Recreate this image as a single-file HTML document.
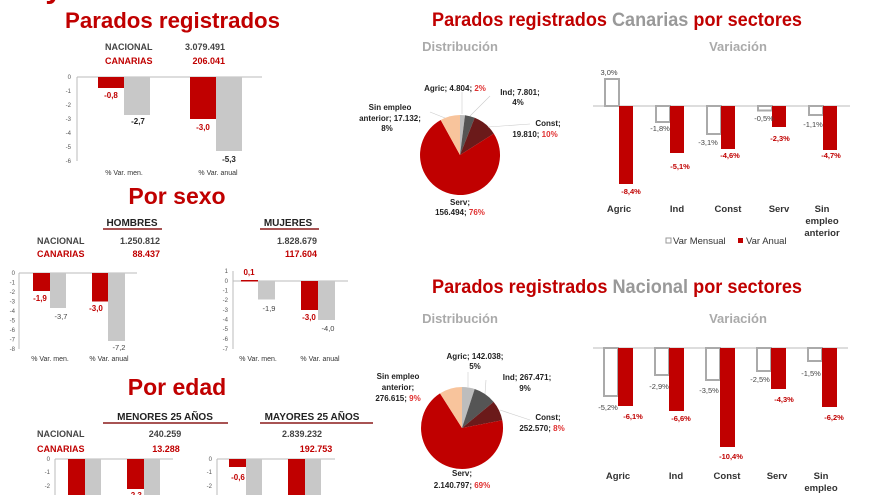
<!DOCTYPE html>
<html><head><meta charset="utf-8"><style>
html,body{margin:0;padding:0;background:#fff;}
svg{display:block;font-family:"Liberation Sans",Arial,sans-serif;}
.t{font-weight:bold;fill:#c00000;}
.k{font-size:9px;font-weight:bold;fill:#444;}
.r{font-size:9px;font-weight:bold;fill:#c00000;}
.ax{font-size:6px;fill:#555;}
.lb{font-size:8px;fill:#222;font-weight:bold;}
.lr{font-size:8px;fill:#c00000;font-weight:bold;}
.cat{font-size:7px;fill:#333;}
.pl{font-size:8px;font-weight:bold;fill:#222;}
.vl{font-size:7.5px;fill:#444;}
.vr{font-size:7.5px;fill:#c00000;font-weight:bold;}
.vc{font-size:9.5px;fill:#333;font-weight:bold;}
.h{font-size:13px;font-weight:bold;fill:#aaa;}
</style></head><body>
<svg width="880" height="495" viewBox="0 0 880 495" xmlns="http://www.w3.org/2000/svg">
<text x="0" y="-2" class="t" font-size="30" textLength="160" lengthAdjust="spacingAndGlyphs">mayo 2016</text>
<text x="65" y="28" class="t" font-size="22" textLength="215" lengthAdjust="spacingAndGlyphs">Parados registrados</text>
<text x="105" y="50" class="k">NACIONAL</text><text x="225" y="50" class="k" text-anchor="end">3.079.491</text>
<text x="105" y="64" class="r">CANARIAS</text><text x="225" y="64" class="r" text-anchor="end">206.041</text>
<g class="ax" text-anchor="end">
<text x="71" y="79">0</text><text x="71" y="93">-1</text><text x="71" y="107">-2</text><text x="71" y="121">-3</text><text x="71" y="135">-4</text><text x="71" y="149">-5</text><text x="71" y="163">-6</text></g>
<line x1="77" y1="77" x2="77" y2="161" stroke="#bbb" stroke-width="1"/>
<line x1="77" y1="77" x2="262" y2="77" stroke="#bbb" stroke-width="1"/>
<rect x="98" y="77" width="26" height="11" fill="#c00000"/>
<rect x="124" y="77" width="26" height="38" fill="#c8c8c8"/>
<rect x="190" y="77" width="26" height="42" fill="#c00000"/>
<rect x="216" y="77" width="26" height="74" fill="#c8c8c8"/>
<text x="111" y="98" class="lr" text-anchor="middle">-0,8</text>
<text x="138" y="124" class="lb" text-anchor="middle">-2,7</text>
<text x="203" y="130" class="lr" text-anchor="middle">-3,0</text>
<text x="229" y="162" class="lb" text-anchor="middle">-5,3</text>
<text x="124" y="175" class="cat" text-anchor="middle">% Var. men.</text>
<text x="218" y="175" class="cat" text-anchor="middle">% Var. anual</text>
<text x="177" y="204" class="t" font-size="23" text-anchor="middle">Por sexo</text>
<text x="132" y="226" font-size="10" font-weight="bold" fill="#222" text-anchor="middle">HOMBRES</text>
<line x1="103" y1="229" x2="162" y2="229" stroke="#8b1a1a" stroke-width="1.5"/>
<text x="288" y="226" font-size="10" font-weight="bold" fill="#222" text-anchor="middle">MUJERES</text>
<line x1="260" y1="229" x2="319" y2="229" stroke="#8b1a1a" stroke-width="1.5"/>
<text x="37" y="244" class="k">NACIONAL</text><text x="160" y="244" class="k" text-anchor="end">1.250.812</text><text x="317" y="244" class="k" text-anchor="end">1.828.679</text>
<text x="37" y="257" class="r">CANARIAS</text><text x="160" y="257" class="r" text-anchor="end">88.437</text><text x="317" y="257" class="r" text-anchor="end">117.604</text>
<g class="ax" text-anchor="end">
<text x="15" y="275">0</text><text x="15" y="284.5">-1</text><text x="15" y="294">-2</text><text x="15" y="303.5">-3</text><text x="15" y="313">-4</text><text x="15" y="322.5">-5</text><text x="15" y="332">-6</text><text x="15" y="341.5">-7</text><text x="15" y="351">-8</text></g>
<line x1="19" y1="273" x2="19" y2="349" stroke="#bbb"/>
<line x1="19" y1="273" x2="137" y2="273" stroke="#bbb"/>
<rect x="33" y="273" width="17" height="18" fill="#c00000"/>
<rect x="50" y="273" width="16" height="35" fill="#c8c8c8"/>
<rect x="92" y="273" width="16" height="28.5" fill="#c00000"/>
<rect x="108" y="273" width="17" height="68" fill="#c8c8c8"/>
<text x="40" y="301" class="lr" text-anchor="middle">-1,9</text>
<text x="61" y="319" class="vl" text-anchor="middle">-3,7</text>
<text x="96" y="311" class="lr" text-anchor="middle">-3,0</text>
<text x="119" y="350" class="vl" text-anchor="middle">-7,2</text>
<text x="50" y="361" class="cat" text-anchor="middle">% Var. men.</text>
<text x="109" y="361" class="cat" text-anchor="middle">% Var. anual</text>
<g class="ax" text-anchor="end">
<text x="228" y="273">1</text><text x="228" y="283">0</text><text x="228" y="292.5">-1</text><text x="228" y="302">-2</text><text x="228" y="312">-3</text><text x="228" y="321.5">-4</text><text x="228" y="331">-5</text><text x="228" y="341">-6</text><text x="228" y="351">-7</text></g>
<line x1="233" y1="271" x2="233" y2="349" stroke="#bbb"/>
<line x1="233" y1="281" x2="348" y2="281" stroke="#bbb"/>
<rect x="241" y="280" width="17" height="1.5" fill="#c00000"/>
<rect x="258" y="281" width="17" height="18.5" fill="#c8c8c8"/>
<rect x="301" y="281" width="17" height="29" fill="#c00000"/>
<rect x="318" y="281" width="17" height="39" fill="#c8c8c8"/>
<text x="249" y="275" class="lr" text-anchor="middle">0,1</text>
<text x="269" y="311" class="vl" text-anchor="middle">-1,9</text>
<text x="309" y="320" class="lr" text-anchor="middle">-3,0</text>
<text x="328" y="331" class="vl" text-anchor="middle">-4,0</text>
<text x="258" y="361" class="cat" text-anchor="middle">% Var. men.</text>
<text x="320" y="361" class="cat" text-anchor="middle">% Var. anual</text>
<text x="177" y="395" class="t" font-size="23" text-anchor="middle">Por edad</text>
<text x="165" y="420" font-size="10" font-weight="bold" fill="#222" text-anchor="middle">MENORES 25 AÑOS</text>
<line x1="103" y1="423" x2="228" y2="423" stroke="#8b1a1a" stroke-width="1.5"/>
<text x="312" y="420" font-size="10" font-weight="bold" fill="#222" text-anchor="middle">MAYORES 25 AÑOS</text>
<line x1="260" y1="423" x2="373" y2="423" stroke="#8b1a1a" stroke-width="1.5"/>
<text x="37" y="437" class="k">NACIONAL</text><text x="165" y="437" class="k" text-anchor="middle">240.259</text><text x="302" y="437" class="k" text-anchor="middle">2.839.232</text>
<text x="37" y="452" class="r">CANARIAS</text><text x="166" y="452" class="r" text-anchor="middle">13.288</text><text x="316" y="452" class="r" text-anchor="middle">192.753</text>
<g class="ax" text-anchor="end">
<text x="50" y="461">0</text><text x="50" y="474">-1</text><text x="50" y="488">-2</text>
<text x="212" y="461">0</text><text x="212" y="474">-1</text><text x="212" y="488">-2</text></g>
<line x1="55" y1="459" x2="55" y2="495" stroke="#bbb"/><line x1="55" y1="459" x2="173" y2="459" stroke="#bbb"/>
<line x1="217" y1="459" x2="217" y2="495" stroke="#bbb"/><line x1="217" y1="459" x2="335" y2="459" stroke="#bbb"/>
<rect x="68" y="459" width="17" height="36" fill="#c00000"/>
<rect x="85" y="459" width="16" height="36" fill="#c8c8c8"/>
<rect x="127" y="459" width="17" height="30" fill="#c00000"/>
<rect x="144" y="459" width="16" height="36" fill="#c8c8c8"/>
<text x="135" y="498" class="lr" text-anchor="middle">-2,3</text>
<rect x="229" y="459" width="17" height="8" fill="#c00000"/>
<rect x="246" y="459" width="16" height="36" fill="#c8c8c8"/>
<rect x="288" y="459" width="17" height="36" fill="#c00000"/>
<rect x="305" y="459" width="16" height="36" fill="#c8c8c8"/>
<text x="238" y="480" class="lr" text-anchor="middle">-0,6</text>

<text x="432" y="26" class="t" font-size="19" textLength="370" lengthAdjust="spacingAndGlyphs">Parados registrados <tspan fill="#999">Canarias</tspan> por sectores</text>
<text x="460" y="51" class="h" text-anchor="middle">Distribución</text>
<text x="738" y="51" class="h" text-anchor="middle">Variación</text>
<path d="M460,155 L460,115 A40,40 0 0 1 465,115.3 Z" fill="#bdbdbd"/>
<path d="M460,155 L465,115.3 A40,40 0 0 1 474.7,117.8 Z" fill="#555"/>
<path d="M460,155 L474.7,117.8 A40,40 0 0 1 493.8,133.6 Z" fill="#6b1a1a"/>
<path d="M460,155 L493.8,133.6 A40,40 0 1 1 440.7,120 Z" fill="#c00000"/>
<path d="M460,155 L440.7,120 A40,40 0 0 1 460,115 Z" fill="#f8c49c"/>
<g stroke="#ccc" stroke-width="0.6" fill="none">
<line x1="462" y1="114" x2="462" y2="92"/><line x1="470" y1="116" x2="490" y2="96"/><line x1="488" y1="127" x2="530" y2="124"/><line x1="445" y1="118" x2="430" y2="112"/></g>
<text x="455" y="91" class="pl" text-anchor="middle">Agric; 4.804; <tspan fill="#e03030">2%</tspan></text>
<text x="520" y="95" class="pl" text-anchor="middle">Ind; 7.801;</text>
<text x="518" y="105" class="pl" text-anchor="middle" fill="#e03030">4%</text>
<text x="548" y="126" class="pl" text-anchor="middle">Const;</text>
<text x="535" y="137" class="pl" text-anchor="middle">19.810; <tspan fill="#e03030">10%</tspan></text>
<text x="390" y="110" class="pl" text-anchor="middle">Sin empleo</text>
<text x="390" y="121" class="pl" text-anchor="middle">anterior; 17.132;</text>
<text x="387" y="131" class="pl" text-anchor="middle" fill="#e03030">8%</text>
<text x="460" y="205" class="pl" text-anchor="middle">Serv;</text>
<text x="460" y="215" class="pl" text-anchor="middle">156.494; <tspan fill="#e03030">76%</tspan></text>
<line x1="593" y1="106" x2="850" y2="106" stroke="#bbb"/>
<g fill="#fff" stroke="#aaa" stroke-width="2">
<rect x="605" y="79" width="14" height="27"/><rect x="656" y="106" width="14" height="16"/><rect x="707" y="106" width="14" height="28"/><rect x="758" y="106" width="14" height="4.5"/><rect x="809" y="106" width="14" height="9"/></g>
<g fill="#c00000">
<rect x="619" y="106" width="14" height="78"/><rect x="670" y="106" width="14" height="47"/><rect x="721" y="106" width="14" height="43"/><rect x="772" y="106" width="14" height="21"/><rect x="823" y="106" width="14" height="44"/></g>
<g class="vl" text-anchor="middle"><text x="609" y="75">3,0%</text><text x="660" y="131">-1,8%</text><text x="708" y="145">-3,1%</text><text x="764" y="121">-0,5%</text><text x="813" y="127">-1,1%</text></g>
<g class="vr" text-anchor="middle"><text x="631" y="194">-8,4%</text><text x="680" y="169">-5,1%</text><text x="730" y="158">-4,6%</text><text x="780" y="141">-2,3%</text><text x="831" y="158">-4,7%</text></g>
<g class="vc" text-anchor="middle"><text x="619" y="212">Agric</text><text x="677" y="212">Ind</text><text x="728" y="212">Const</text><text x="779" y="212">Serv</text><text x="822" y="212">Sin</text><text x="822" y="224">empleo</text><text x="822" y="236">anterior</text></g>
<rect x="666" y="238" width="5" height="5" fill="none" stroke="#999" stroke-width="1"/>
<text x="673" y="244" font-size="9.5" fill="#333">Var Mensual</text>
<rect x="738" y="238" width="5" height="5" fill="#c00000"/>
<text x="746" y="244" font-size="9.5" fill="#333">Var Anual</text>

<text x="432" y="293" class="t" font-size="19" textLength="370" lengthAdjust="spacingAndGlyphs">Parados registrados <tspan fill="#999">Nacional</tspan> por sectores</text>
<text x="460" y="323" class="h" text-anchor="middle">Distribución</text>
<text x="738" y="323" class="h" text-anchor="middle">Variación</text>
<path d="M462,428 L462,387 A41,41 0 0 1 474.7,389 Z" fill="#bdbdbd"/>
<path d="M462,428 L474.7,389 A41,41 0 0 1 493.6,401.9 Z" fill="#555"/>
<path d="M462,428 L493.6,401.9 A41,41 0 0 1 502.3,420.3 Z" fill="#6b1a1a"/>
<path d="M462,428 L502.3,420.3 A41,41 0 1 1 440,393.4 Z" fill="#c00000"/>
<path d="M462,428 L440,393.4 A41,41 0 0 1 462,387 Z" fill="#f8c49c"/>
<g stroke="#ccc" stroke-width="0.6" fill="none">
<line x1="468" y1="387" x2="468" y2="372"/><line x1="485" y1="394" x2="486" y2="380"/><line x1="500" y1="410" x2="530" y2="420"/></g>
<text x="475" y="359" class="pl" text-anchor="middle">Agric; 142.038;</text>
<text x="475" y="369" class="pl" text-anchor="middle" fill="#e03030">5%</text>
<text x="527" y="380" class="pl" text-anchor="middle">Ind; 267.471;</text>
<text x="525" y="391" class="pl" text-anchor="middle" fill="#e03030">9%</text>
<text x="398" y="379" class="pl" text-anchor="middle">Sin empleo</text>
<text x="398" y="390" class="pl" text-anchor="middle">anterior;</text>
<text x="398" y="401" class="pl" text-anchor="middle">276.615; <tspan fill="#e03030">9%</tspan></text>
<text x="548" y="420" class="pl" text-anchor="middle">Const;</text>
<text x="542" y="431" class="pl" text-anchor="middle">252.570; <tspan fill="#e03030">8%</tspan></text>
<text x="462" y="476" class="pl" text-anchor="middle">Serv;</text>
<text x="462" y="488" class="pl" text-anchor="middle">2.140.797; <tspan fill="#e03030">69%</tspan></text>
<line x1="593" y1="348" x2="848" y2="348" stroke="#bbb"/>
<g fill="#fff" stroke="#aaa" stroke-width="2">
<rect x="604" y="348" width="14" height="48"/><rect x="655" y="348" width="14" height="27"/><rect x="706" y="348" width="14" height="32"/><rect x="757" y="348" width="14" height="23"/><rect x="808" y="348" width="14" height="13"/></g>
<g fill="#c00000">
<rect x="618" y="348" width="15" height="58"/><rect x="669" y="348" width="15" height="63"/><rect x="720" y="348" width="15" height="99"/><rect x="771" y="348" width="15" height="41"/><rect x="822" y="348" width="15" height="59"/></g>
<g class="vl" text-anchor="middle"><text x="608" y="410">-5,2%</text><text x="659" y="389">-2,9%</text><text x="709" y="393">-3,5%</text><text x="760" y="382">-2,5%</text><text x="811" y="376">-1,5%</text></g>
<g class="vr" text-anchor="middle"><text x="633" y="419">-6,1%</text><text x="681" y="421">-6,6%</text><text x="731" y="459">-10,4%</text><text x="784" y="402">-4,3%</text><text x="834" y="420">-6,2%</text></g>
<g class="vc" text-anchor="middle"><text x="618" y="479">Agric</text><text x="676" y="479">Ind</text><text x="727" y="479">Const</text><text x="777" y="479">Serv</text><text x="821" y="479">Sin</text><text x="821" y="491">empleo</text></g>
</svg>
</body></html>
